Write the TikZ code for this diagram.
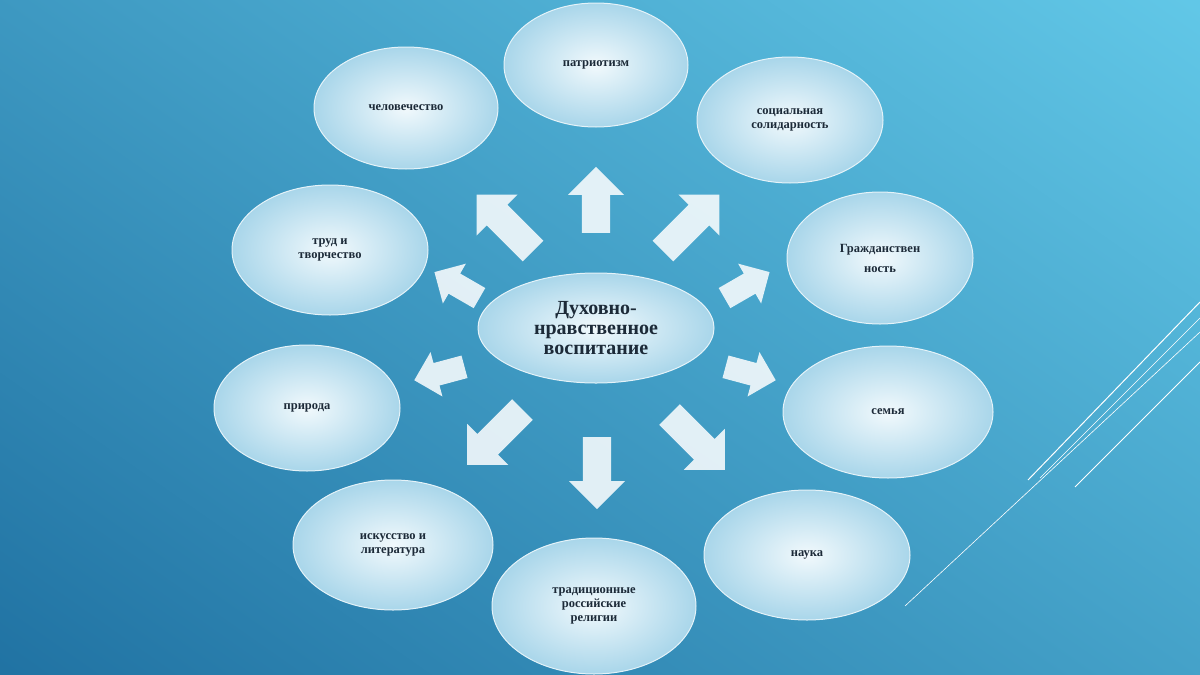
\documentclass[tikz,border=0pt]{standalone}
\usepackage{fontspec}
\setmainfont{Liberation Serif}
\usetikzlibrary{shapes.arrows,shapes.geometric}
\definecolor{bgA}{HTML}{68D0EE}
\definecolor{bgB}{HTML}{1A6A9C}
\definecolor{elFill}{HTML}{DDF0F8}
\definecolor{elEdge}{HTML}{A9D6EA}
\definecolor{txt}{HTML}{1C2A38}
\tikzset{
  el/.style={ellipse, inner color=white!60!elFill, outer color=elEdge, draw=white!70!elEdge, line width=1pt,
    text=txt, font=\fontsize{12.5}{14}\selectfont\bfseries, align=center, inner sep=0pt},
  arr/.style={single arrow, fill=white, fill opacity=0.85, draw=none,
    single arrow head extend=9pt, single arrow tip angle=90, minimum height=#1, inner sep=9pt},
  deco/.style={draw=white, line width=1pt}
}
\begin{document}
\begin{tikzpicture}[x=1pt,y=-1pt]
\useasboundingbox (0,0) rectangle (1200,675);
\shade[top color=bgA, bottom color=bgB, shading angle=-35] (-300,-300) rectangle (1500,975);
% decorative lines
\coordinate (d1a) at (1028,480); \coordinate (d1b) at (1200,302);
\coordinate (d2a) at (1075,487); \coordinate (d2b) at (1200,362);
\coordinate (d3a) at (905,606); \coordinate (d3b) at (1200,332);
\coordinate (d4a) at (1040,478); \coordinate (d4b) at (1200,318);
\draw[deco] (d1a) -- (d1b); \draw[deco] (d2a) -- (d2b);
\draw[deco, line width=0.6pt] (d3a) -- (d3b); \draw[deco, line width=0.6pt] (d4a) -- (d4b);
% ellipses
\node[el, minimum width=184pt, minimum height=124pt] (pat) at (596,65) {патриотизм};
\node[el, minimum width=184pt, minimum height=122pt] (che) at (406,108) {человечество};
\node[el, minimum width=186pt, minimum height=126pt] (soc) at (790,120) {социальная\\солидарность};
\node[el, minimum width=196pt, minimum height=130pt] (tru) at (330,250) {труд и\\творчество};
\node[el, minimum width=186pt, minimum height=132pt] (gra) at (880,258) {Гражданствен\\[6pt]ность};
\node[el, minimum width=186pt, minimum height=126pt] (pri) at (307,408) {природа};
\node[el, minimum width=210pt, minimum height=132pt] (sem) at (888,412) {семья};
\node[el, minimum width=200pt, minimum height=130pt] (isk) at (393,545) {искусство и\\литература};
\node[el, minimum width=204pt, minimum height=136pt] (tra) at (594,606) {традиционные\\российские\\религии};
\node[el, minimum width=206pt, minimum height=130pt] (nau) at (807,555) {наука};
\node[el, minimum width=236pt, minimum height=110pt, font=\fontsize{20}{20}\selectfont\bfseries] (cen) at (596,328) {Духовно-\\нравственное\\воспитание};
% arrows
\node[arr=66pt, minimum width=56pt, rotate=90] (a1) at (596,207) {};
\node[arr=80pt, minimum width=58pt, rotate=135] (a2) at (510,228) {};
\node[arr=80pt, minimum width=58pt, rotate=45] (a3) at (686,228) {};
\node[arr=52pt, minimum width=46pt, rotate=150] (a4) at (462,288) {};
\node[arr=52pt, minimum width=46pt, rotate=30] (a5) at (742,288) {};
\node[arr=52pt, minimum width=46pt, rotate=195] (a6) at (445,372) {};
\node[arr=52pt, minimum width=46pt, rotate=-15] (a7) at (745,372) {};
\node[arr=78pt, minimum width=58pt, rotate=225] (a8) at (500,432) {};
\node[arr=72pt, minimum width=56pt, rotate=-90] (a9) at (597,466) {};
\node[arr=78pt, minimum width=58pt, rotate=-45] (a10) at (692,437) {};
\end{tikzpicture}
\end{document}
